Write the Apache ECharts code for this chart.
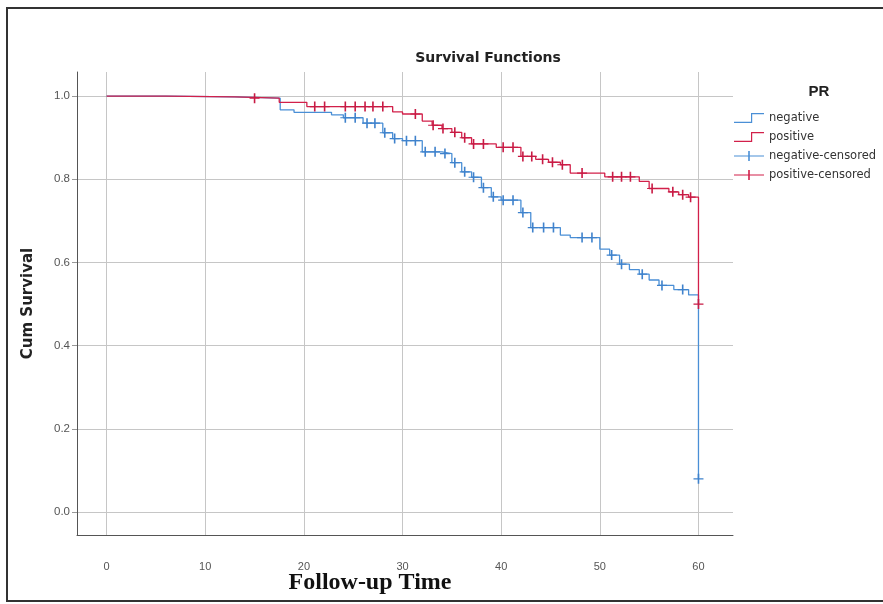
<!DOCTYPE html>
<html><head><meta charset="utf-8">
<script src="https://cdn.jsdelivr.net/npm/echarts@6/dist/echarts.min.js"></script>
<style>html,body{margin:0;padding:0;background:#fff}#c{width:883px;height:604px}</style>
</head><body><div id="c"></div>
<script>
// ---- data ----
const negTime = [0, 6, 13, 17.6, 19, 22.8, 24, 26, 28, 29, 30, 32, 34, 35, 36, 37, 38, 39, 40, 42, 43, 46, 47, 50, 51, 52, 53, 54, 55, 56, 57.5, 59, 60];
const negSurv = [1.0, 0.998, 0.995, 0.967, 0.961, 0.955, 0.948, 0.935, 0.912, 0.898, 0.893, 0.866, 0.862, 0.84, 0.818, 0.805, 0.78, 0.758, 0.75, 0.72, 0.684, 0.666, 0.66, 0.632, 0.618, 0.596, 0.583, 0.572, 0.558, 0.545, 0.535, 0.522, 0.08];
const posTime = [0, 6, 13, 17.5, 20.3, 29, 30, 32, 33, 34, 35, 36, 37, 39.5, 42, 43.5, 44.8, 46, 47, 50.5, 54, 55, 57, 58, 59, 60];
const posSurv = [1.0, 0.998, 0.995, 0.985, 0.975, 0.962, 0.957, 0.94, 0.93, 0.922, 0.913, 0.9, 0.885, 0.877, 0.855, 0.848, 0.841, 0.835, 0.815, 0.806, 0.795, 0.778, 0.77, 0.763, 0.757, 0.50];
const negCensTime = [24.2, 25.2, 26.4, 27.2, 28.2, 29.2, 30.4, 31.3, 32.3, 33.3, 34.3, 35.3, 36.3, 37.2, 38.2, 39.2, 40.2, 41.2, 42.2, 43.2, 44.3, 45.3, 48.2, 49.2, 51.2, 52.2, 54.3, 56.3, 58.4, 60];
const negCensSurv = [0.948, 0.948, 0.935, 0.935, 0.912, 0.898, 0.893, 0.893, 0.866, 0.866, 0.862, 0.84, 0.818, 0.805, 0.78, 0.758, 0.75, 0.75, 0.72, 0.684, 0.684, 0.684, 0.66, 0.66, 0.618, 0.596, 0.572, 0.545, 0.535, 0.08];
const posCensTime = [15, 21.1, 22.1, 24.2, 25.2, 26.2, 27, 28, 31.3, 33.1, 34.1, 35.3, 36.3, 37.2, 38.2, 40.2, 41.2, 42.2, 43.1, 44.2, 45.2, 46.2, 48.2, 51.3, 52.2, 53.1, 55.3, 57.4, 58.4, 59.2, 60];
const posCensSurv = [0.995, 0.975, 0.975, 0.975, 0.975, 0.975, 0.975, 0.975, 0.957, 0.93, 0.922, 0.913, 0.9, 0.885, 0.885, 0.877, 0.877, 0.855, 0.855, 0.848, 0.841, 0.835, 0.815, 0.806, 0.806, 0.806, 0.778, 0.77, 0.763, 0.757, 0.50];
const xTicks = [0, 10, 20, 30, 40, 50, 60];
const yTicks = [0, 0.2, 0.4, 0.6, 0.8, 1.0];
const groupNames = ['negative', 'positive', 'negative-censored', 'positive-censored'];

// ---- styling ----
const BLUE = '#4a8fd6', RED = '#d2204a';
const SANS = 'Liberation Sans, Arial, sans-serif';
const WIDE = 'DejaVu Sans, Liberation Sans, sans-serif';
const plusPath = 'path://M4.2,0 H5.8 V4.4 H10 V5.6 H5.8 V10 H4.2 V5.6 H0 V4.4 H4.2 Z';
const stepIcon = 'path://M0,8.8 H17 V0 H30 V1.2 H18.2 V10 H0 Z';
const censIcon = 'path://M0,4.4 H14.2 V0 H15.8 V4.4 H30 V5.6 H15.8 V10 H14.2 V5.6 H0 Z';
const pairs = (a, b) => a.map((t, i) => [t, b[i]]);

const chart = echarts.init(document.getElementById('c'), null, {renderer: 'canvas'});
chart.setOption({
  animation: false,
  backgroundColor: '#ffffff',
  title: [
    {text: 'Survival Functions', left: 483, top: 46, textAlign: 'center',
     textStyle: {fontFamily: WIDE, fontSize: 14, fontWeight: 'bold', color: '#222'}},
    {text: 'Follow-up Time', left: 365, top: 566, textAlign: 'center',
     textStyle: {fontFamily: 'Liberation Serif, Times New Roman, serif', fontSize: 24, fontWeight: 'bold', color: '#111'}},
    {text: 'PR', left: 814, top: 79, textAlign: 'center',
     textStyle: {fontFamily: SANS, fontSize: 15, fontWeight: 'bold', color: '#222'}}
  ],
  legend: {
    orient: 'vertical', left: 734, top: 112, itemWidth: 30, itemHeight: 10, itemGap: 7,
    selectedMode: false, padding: 0,
    itemStyle: {borderWidth: 0, opacity: 1},
    textStyle: {fontFamily: WIDE, fontSize: 11.5, color: '#333'},
    data: [
      {name: groupNames[0], icon: stepIcon, itemStyle: {color: BLUE, borderWidth: 0, opacity: 1}},
      {name: groupNames[1], icon: stepIcon, itemStyle: {color: RED, borderWidth: 0, opacity: 1}},
      {name: groupNames[2], icon: censIcon, itemStyle: {color: BLUE, borderWidth: 0, opacity: 1}},
      {name: groupNames[3], icon: censIcon, itemStyle: {color: RED, borderWidth: 0, opacity: 1}}
    ]
  },
  grid: {left: 77, right: 150, top: 72, bottom: 69, containLabel: false},
  xAxis: {
    type: 'value', min: -3, max: 63.5,
    axisLine: {show: true, onZero: false, lineStyle: {color: '#555', width: 1}},
    axisTick: {show: false, customValues: xTicks},
    axisLabel: {customValues: xTicks, margin: 26, fontFamily: SANS, fontSize: 11, color: '#555'},
    splitLine: {show: true, lineStyle: {color: '#c6c6c6', width: 1}}
  },
  yAxis: {
    type: 'value', min: -0.055, max: 1.058,
    axisLine: {show: true, onZero: false, lineStyle: {color: '#555', width: 1}},
    axisTick: {show: true, customValues: yTicks, length: 5, lineStyle: {color: '#999'}},
    axisLabel: {customValues: yTicks, margin: 7, fontFamily: SANS, fontSize: 11.5, color: '#555',
                formatter: v => Number(v).toFixed(1)},
    splitLine: {show: true, lineStyle: {color: '#c6c6c6', width: 1}},
    name: 'Cum Survival', nameLocation: 'middle', nameGap: 41, nameRotate: 90,
    nameTextStyle: {fontFamily: WIDE, fontSize: 15, fontWeight: 'bold', color: '#222'}
  },
  series: [
    {type: 'line', name: groupNames[0], data: pairs(negTime, negSurv), step: 'end',
     symbol: 'none', lineStyle: {color: BLUE, width: 1.3}, itemStyle: {color: BLUE}, z: 2},
    {type: 'line', name: groupNames[1], data: pairs(posTime, posSurv), step: 'end',
     symbol: 'none', lineStyle: {color: RED, width: 1.3}, itemStyle: {color: RED}, z: 3},
    {type: 'scatter', name: groupNames[2], data: pairs(negCensTime, negCensSurv),
     symbol: plusPath, symbolSize: [10, 10], itemStyle: {color: '#3f82cc', opacity: 1}, z: 4},
    {type: 'scatter', name: groupNames[3], data: pairs(posCensTime, posCensSurv),
     symbol: plusPath, symbolSize: [10, 10], itemStyle: {color: '#c81a44', opacity: 1}, z: 5}
  ],
  graphic: [
    {type: 'rect', shape: {x: 7, y: 8, width: 890, height: 593},
     style: {fill: 'none', stroke: '#333', lineWidth: 2}, z: 100, silent: true}
  ]
});
</script>
</body></html>
